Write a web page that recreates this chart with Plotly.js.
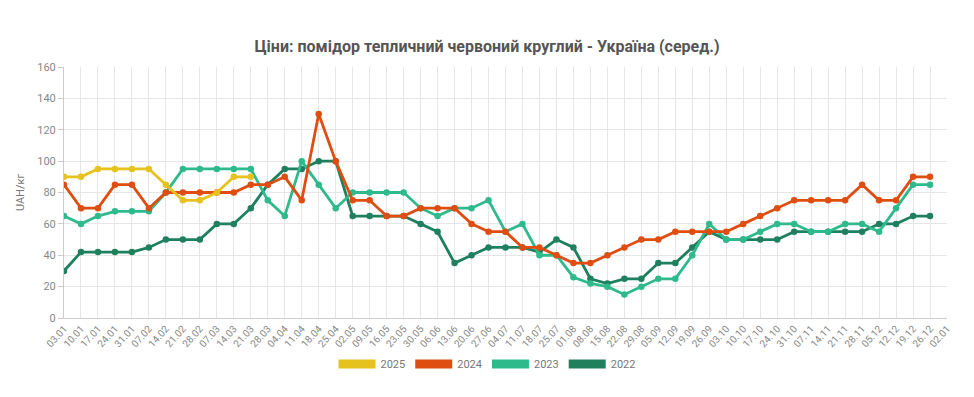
<!DOCTYPE html>
<html>
<head>
<meta charset="utf-8">
<script src="https://cdn.plot.ly/plotly-3.0.1.min.js"></script>
<style>
html,body{margin:0;padding:0;background:#fff;}
#chart{width:974px;height:397px;}
</style>
</head>
<body>
<div id="chart"></div>
<script>
const weeks = ["03.01","10.01","17.01","24.01","31.01","07.02","14.02","21.02","28.02","07.03","14.03","21.03","28.03","04.04","11.04","18.04","25.04","02.05","09.05","16.05","23.05","30.05","06.06","13.06","20.06","27.06","04.07","11.07","18.07","25.07","01.08","08.08","15.08","22.08","29.08","05.09","12.09","19.09","26.09","03.10","10.10","17.10","24.10","31.10","07.11","14.11","21.11","28.11","05.12","12.12","19.12","26.12","02.01"];

const price2025 = [90,90,95,95,95,95,85,75,75,80,90,90];
const price2024 = [85,70,70,85,85,70,80,80,80,80,80,85,85,90,75,130,100,75,75,65,65,70,70,70,60,55,55,45,45,40,35,35,40,45,50,50,55,55,55,55,60,65,70,75,75,75,75,85,75,75,90,90];
const price2023 = [65,60,65,68,68,68,80,95,95,95,95,95,75,65,100,85,70,80,80,80,80,70,65,70,70,75,55,60,40,40,26,22,20,15,20,25,25,40,60,50,50,55,60,60,55,55,60,60,55,70,85,85];
const price2022 = [30,42,42,42,42,45,50,50,50,60,60,70,85,95,95,100,100,65,65,65,65,60,55,35,40,45,45,45,42,50,45,25,22,25,25,35,35,45,55,50,50,50,50,55,55,55,55,55,60,60,65,65];

const seriesNames = ["2025","2024","2023","2022"];
const seriesData = [price2025, price2024, price2023, price2022];
const seriesColors = ["#e6c21f","#df4d10","#2fba8c","#1f805e"];

const traces = [];
for (let k = seriesNames.length - 1; k >= 0; k--) {
  const y = seriesData[k];
  traces.push({
    type: "scatter",
    mode: "lines+markers",
    name: seriesNames[k],
    x: weeks.slice(0, y.length),
    y: y,
    line: {color: seriesColors[k], width: 2.8},
    marker: {color: seriesColors[k], size: 6.5},
    showlegend: false,
    hoverinfo: "x+y+name"
  });
}
for (let k = 0; k < seriesNames.length; k++) {
  traces.push({
    type: "scatter",
    mode: "lines",
    name: seriesNames[k],
    x: weeks,
    y: weeks.map(() => null),
    line: {color: seriesColors[k], width: 9},
    showlegend: true,
    hoverinfo: "skip"
  });
}

const layout = {
  width: 974,
  height: 397,
  margin: {l: 64, r: 27, t: 67, b: 79},
  paper_bgcolor: "#ffffff",
  plot_bgcolor: "#ffffff",
  font: {family: "Roboto, 'Open Sans', sans-serif", color: "#888888", size: 11},
  title: {
    text: "<b>Ціни: помідор тепличний червоний круглий - Україна (серед.)</b>",
    font: {family: "Roboto, sans-serif", size: 16, color: "#555555"},
    x: 0.5, xanchor: "center",
    y: 0.882, yanchor: "middle", yref: "container"
  },
  xaxis: {
    type: "category",
    categoryorder: "array",
    categoryarray: weeks,
    range: [0, weeks.length - 1],
    tickmode: "array",
    tickvals: weeks,
    ticktext: weeks,
    tickangle: -48,
    tickfont: {size: 10, color: "#888888"},
    showgrid: true,
    gridcolor: "#e6e6e6",
    gridwidth: 1,
    showline: true,
    linecolor: "#cccccc",
    linewidth: 1,
    ticks: "",
    zeroline: false,
    automargin: false,
    fixedrange: true
  },
  yaxis: {
    range: [0, 160],
    tickmode: "linear",
    tick0: 0,
    dtick: 20,
    tickfont: {size: 11, color: "#888888"},
    showgrid: true,
    gridcolor: "#e6e6e6",
    gridwidth: 1,
    showline: true,
    linecolor: "#cccccc",
    ticks: "outside",
    ticklen: 5,
    tickcolor: "#cccccc",
    zeroline: true,
    zerolinecolor: "#cccccc",
    title: {text: "UAH/кг", font: {size: 11, color: "#777777"}, standoff: 10},
    automargin: false,
    fixedrange: true
  },
  legend: {
    orientation: "h",
    x: 0.5, xanchor: "center", xref: "container",
    y: 0.083, yanchor: "middle", yref: "container",
    itemwidth: 37,
    font: {size: 11, color: "#777777"},
    traceorder: "normal"
  },
  showlegend: true
};

Plotly.newPlot("chart", traces, layout, {displayModeBar: false, staticPlot: true});
</script>
</body>
</html>
